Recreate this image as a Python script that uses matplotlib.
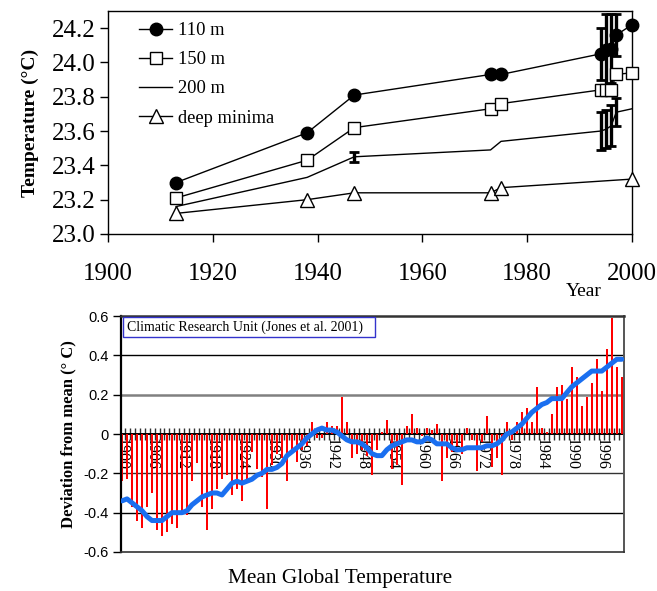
import matplotlib
matplotlib.use('Agg')
import matplotlib.pyplot as plt
from matplotlib.patches import Rectangle
from matplotlib.ticker import FixedLocator, NullFormatter

serif = 'Liberation Serif'
sans = 'Liberation Sans'

# --- upper panel: temperature at depth ---
yrs = [1913, 1938, 1947, 1973, 1975, 1994, 1995, 1996, 1997, 2000]
t110 = [23.30, 23.59, 23.81, 23.93, 23.93, 24.05, 24.07, 24.08, 24.16, 24.22]
t150 = [23.21, 23.43, 23.62, 23.73, 23.76, 23.84, 23.84, 23.84, 23.93, 23.94]
t200 = [23.16, 23.33, 23.45, 23.49, 23.54, 23.60, 23.61, 23.63, 23.71, 23.73]
yrs_min = [1913, 1938, 1947, 1973, 1975, 2000]
t_min = [23.12, 23.20, 23.24, 23.24, 23.27, 23.32]

err110_yrs = [1994, 1995, 1996, 1997]
err110 = [0.15, 0.21, 0.20, 0.12]
err200_yrs = [1947, 1994, 1995, 1996, 1997]
err200 = [0.03, 0.11, 0.11, 0.12, 0.08]

# --- lower panel: global mean temperature anomaly ---
g_years = list(range(1900, 2001))
g_anom = [-0.24, -0.23, -0.37, -0.44, -0.48, -0.37, -0.30, -0.49, -0.52, -0.50,
          -0.46, -0.48, -0.40, -0.41, -0.24, -0.15, -0.37, -0.49, -0.38, -0.28,
          -0.23, -0.21, -0.31, -0.28, -0.34, -0.23, -0.09, -0.18, -0.22, -0.38,
          -0.16, -0.10, -0.12, -0.24, -0.10, -0.14, -0.08, -0.06, 0.06, -0.02,
          -0.02, 0.06, 0.04, 0.04, 0.19, 0.06, -0.12, -0.10, -0.08, -0.11,
          -0.21, -0.08, 0.01, 0.07, -0.18, -0.16, -0.26, 0.04, 0.10, 0.03,
          -0.01, 0.03, 0.02, 0.05, -0.24, -0.12, -0.09, -0.06, -0.10, 0.03,
          -0.03, -0.19, -0.04, 0.09, -0.17, -0.12, -0.21, 0.06, -0.03, 0.06,
          0.11, 0.13, 0.06, 0.24, 0.03, 0.01, 0.10, 0.24, 0.25, 0.18,
          0.34, 0.29, 0.14, 0.19, 0.26, 0.38, 0.22, 0.43, 0.59, 0.34,
          0.29]
g_smooth = [-0.34, -0.33, -0.35, -0.37, -0.39, -0.42, -0.44, -0.44, -0.44, -0.42,
            -0.40, -0.40, -0.40, -0.39, -0.36, -0.34, -0.32, -0.31, -0.30, -0.30,
            -0.31, -0.28, -0.25, -0.24, -0.25, -0.24, -0.23, -0.21, -0.20, -0.18,
            -0.18, -0.17, -0.15, -0.11, -0.09, -0.07, -0.05, -0.02, 0.00, 0.02,
            0.03, 0.02, 0.02, 0.01, -0.01, -0.03, -0.04, -0.04, -0.05, -0.07,
            -0.10, -0.11, -0.11, -0.08, -0.06, -0.05, -0.04, -0.03, -0.03, -0.04,
            -0.04, -0.02, -0.03, -0.05, -0.05, -0.05, -0.07, -0.08, -0.08, -0.07,
            -0.07, -0.07, -0.07, -0.06, -0.06, -0.05, -0.03, 0.00, 0.01, 0.03,
            0.05, 0.08, 0.11, 0.13, 0.15, 0.16, 0.18, 0.18, 0.18, 0.21,
            0.24, 0.26, 0.28, 0.30, 0.32, 0.32, 0.32, 0.34, 0.36, 0.38,
            0.38]
label_years = list(range(1900, 2001, 6))

fig = plt.figure(figsize=(6.57, 5.91), dpi=100)

# ================= upper panel =================
ax1 = fig.add_axes([0.1644, 0.6041, 0.7976, 0.3773])
ax1.plot(yrs, t110, color='black', lw=1, marker='o', ms=9, mfc='black', label='110 m',
         zorder=3, clip_on=False)
ax1.plot(yrs, t150, color='black', lw=1, marker='s', ms=8.5, mfc='white', mew=1, label='150 m',
         zorder=3, clip_on=False)
ax1.plot(yrs, t200, color='black', lw=1, label='200 m', zorder=3, clip_on=False)
ax1.plot(yrs_min, t_min, color='black', lw=1, marker='^', ms=9.5, mfc='white', mew=1,
         label='deep minima', zorder=3, clip_on=False)

y110 = dict(zip(yrs, t110))
y200 = dict(zip(yrs, t200))
for ey, ee, yy in [(err110_yrs, err110, y110), (err200_yrs, err200, y200)]:
    eb = ax1.errorbar(ey, [yy[y] for y in ey], yerr=ee, fmt='none',
                      ecolor='black', elinewidth=2.4, capsize=3.5, capthick=2, zorder=2)
    for art in eb.get_children():
        art.set_clip_on(False)

ax1.set_xlim(1900, 2000)
ax1.set_ylim(23.0, 24.3)
ax1.set_xticks(range(1900, 2001, 20))
ax1.set_yticks([23.0, 23.2, 23.4, 23.6, 23.8, 24.0, 24.2])
ax1.set_yticklabels(['23.0', '23.2', '23.4', '23.6', '23.8', '24.0', '24.2'])
ax1.tick_params(axis='both', direction='out', length=6, width=1, labelsize=18)
ax1.tick_params(axis='x', pad=15)
ax1.tick_params(axis='y', pad=3)
for lab in ax1.get_xticklabels() + ax1.get_yticklabels():
    lab.set_family(serif)
for s in ax1.spines.values():
    s.set_linewidth(1)
ax1.set_ylabel('Temperature (°C)', family=serif, fontweight='bold', fontsize=14, labelpad=9)

leg = ax1.legend(loc='upper left', bbox_to_anchor=(0.038, 1.0), frameon=False,
                 prop={'family': serif, 'size': 13.3}, handlelength=1.8,
                 handletextpad=0.3, labelspacing=0.66, borderaxespad=0.2)

fig.text(584 / 657, 1 - 291 / 591, 'Year', family=serif, fontsize=14, ha='center', va='center')

# ================= lower panel =================
ax2 = fig.add_axes([0.1842, 0.0660, 0.7656, 0.3993])
ax2.set_xlim(1899.8, 2000.45)
ax2.set_ylim(-0.6, 0.6)

for yv, col, lw in [(0.4, 'black', 1.0), (0.2, '#808080', 1.8), (-0.2, '#333333', 1.0), (-0.4, 'black', 1.0)]:
    ax2.axhline(yv, color=col, lw=lw, zorder=1)

ax2.bar(g_years, g_anom, width=0.4, color='#ff0000', zorder=2)
ax2.plot(g_years, g_smooth, color='#1a6ff0', lw=3.6, solid_capstyle='round', zorder=5)

ax2.set_xticks([])
ax2.set_yticks([-0.6, -0.4, -0.2, 0, 0.2, 0.4, 0.6])
ax2.set_yticklabels(['-0.6', '-0.4', '-0.2', '0', '0.2', '0.4', '0.6'])
ax2.tick_params(axis='y', direction='out', length=6, width=1, labelsize=10.5, pad=3)
for lab in ax2.get_yticklabels():
    lab.set_family(sans)
ax2.spines['left'].set_linewidth(1.6)
ax2.spines['top'].set_linewidth(1.8)
ax2.spines['top'].set_color('#333333')
ax2.spines['right'].set_linewidth(1.4)
ax2.spines['right'].set_color('#555555')
ax2.spines['bottom'].set_linewidth(1.2)
ax2.spines['bottom'].set_color('#333333')

# category axis drawn through zero
zax = ax2.secondary_xaxis(0.49999)
zax.spines['bottom'].set_linewidth(1.4)
zax.set_xticks(label_years)
zax.set_xticklabels([str(y) for y in label_years], rotation=-90, family=serif, fontsize=11.5)
zax.xaxis.set_minor_locator(FixedLocator([y + 0.5 for y in g_years[:-1]]))
zax.xaxis.set_minor_formatter(NullFormatter())
zax.tick_params(axis='x', which='major', length=0, pad=3)
zax.tick_params(axis='x', which='minor', direction='inout', length=9, width=1, color='#333333')

ax2.set_ylabel('Deviation from mean (° C)', family=serif, fontweight='bold', fontsize=12, labelpad=5)

ax2.add_patch(Rectangle((0.004, 0.912), 0.501, 0.084, transform=ax2.transAxes,
                        facecolor='white', edgecolor='#3333cc', lw=1, zorder=6))
ax2.text(0.012, 0.954, 'Climatic Research Unit (Jones et al. 2001)', transform=ax2.transAxes,
         family=serif, fontsize=10, va='center', ha='left', zorder=7)

fig.text(340 / 657, 1 - 578 / 591, 'Mean Global Temperature', family=serif, fontsize=15.3,
         ha='center', va='center')

fig.savefig('out.png', dpi=100)
